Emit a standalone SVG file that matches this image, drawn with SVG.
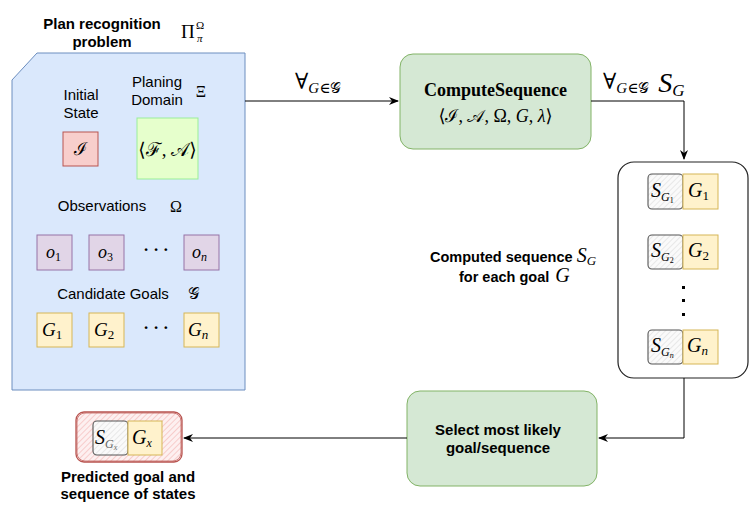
<svg xmlns="http://www.w3.org/2000/svg" width="753" height="512" viewBox="0 0 753 512">
<style>
.sans{font-family:"Liberation Sans",Arial,sans-serif;fill:#000}
.b{font-weight:bold}
.m{font-family:"Liberation Serif","DejaVu Serif",serif;fill:#000}
.i{font-style:italic}
.sc{font-family:"DejaVu Serif","Liberation Serif",serif;font-style:normal}
.conn{fill:none;stroke:#000;stroke-width:1}
.sk{fill:url(#hatchGray);stroke:#555;stroke-width:1.1}
.gy{fill:#fff2cc;stroke:#d6b656;stroke-width:1}
.obs{fill:#e1d5e7;stroke:#9673a6;stroke-width:1}
.grn{fill:#d5e8d4;stroke:#82b366;stroke-width:1}
</style>
<defs>
<marker id="arr" viewBox="0 0 10 8" refX="9" refY="4" markerWidth="10" markerHeight="8" markerUnits="userSpaceOnUse" orient="auto">
<path d="M0,0 L10,4 L0,8 L3,4 z" fill="#000"/>
</marker>
<pattern id="hatchGray" patternUnits="userSpaceOnUse" width="4" height="4" patternTransform="rotate(45)">
<rect width="4" height="4" fill="#fafafa"/>
<line x1="0" y1="0" x2="0" y2="4" stroke="#d6d6d6" stroke-width="1"/>
</pattern>
<pattern id="hatchRed" patternUnits="userSpaceOnUse" width="4" height="4" patternTransform="rotate(45)">
<rect width="4" height="4" fill="#fdf0f0"/>
<line x1="0" y1="0" x2="0" y2="4" stroke="#f2a8a6" stroke-width="1"/>
</pattern>
</defs>
<rect width="753" height="512" fill="#fff"/>

<g id="problem">
<polygon points="37,53 245,53 245,390 12,390 12,80" fill="#dae8fc" stroke="#6c8ebf" stroke-width="1"/>
<text class="sans b" font-size="15" text-anchor="middle"><tspan x="102" y="29">Plan recognition</tspan><tspan x="102" y="47">problem</tspan></text>
<text class="m" font-size="19" x="181" y="38">Π</text>
<text class="m" font-size="11" x="196" y="29">Ω</text>
<text class="m i" font-size="11" x="197" y="42">π</text>
</g>

<g id="initial-state">
<text class="sans" font-size="15" text-anchor="middle"><tspan x="81" y="100">Initial</tspan><tspan x="81" y="118">State</tspan></text>
<rect x="63" y="132" width="35" height="34" fill="#f8cecc" stroke="#b85450"/>
<text class="m sc" font-size="18" x="80.5" y="155" text-anchor="middle">ℐ</text>
</g>

<g id="planning-domain">
<text class="sans" font-size="15" text-anchor="middle"><tspan x="157" y="87">Planing</tspan><tspan x="157" y="105">Domain</tspan></text>
<text class="m" font-size="16" x="201" y="97" text-anchor="middle">Ξ</text>
<rect x="137" y="118" width="61" height="61" fill="#e6ffcc" stroke="#99ee99"/>
<text class="m" font-size="19" x="167.5" y="156" text-anchor="middle">⟨<tspan class="sc">ℱ</tspan>, <tspan class="sc">𝒜</tspan>⟩</text>
</g>

<g id="observations">
<text class="sans" font-size="15" x="102" y="211" text-anchor="middle">Observations</text>
<text class="m" font-size="16" x="176" y="212" text-anchor="middle">Ω</text>
<rect class="obs" x="37" y="235" width="35" height="35"/>
<rect class="obs" x="89" y="235" width="35" height="35"/>
<rect class="obs" x="184" y="235" width="35" height="35"/>
<text class="m" font-size="18" x="46" y="258"><tspan class="i">o</tspan><tspan font-size="12" dy="3">1</tspan></text>
<text class="m" font-size="18" x="98" y="258"><tspan class="i">o</tspan><tspan font-size="12" dy="3">3</tspan></text>
<text class="m" font-size="18" x="192" y="258"><tspan class="i">o</tspan><tspan class="i" font-size="12" dy="3">n</tspan></text>
<text class="m b" font-size="17" x="156" y="255" text-anchor="middle">· · ·</text>
</g>

<g id="candidate-goals">
<text class="sans" font-size="15" x="113" y="299" text-anchor="middle">Candidate Goals</text>
<text class="m sc" font-size="16" x="193" y="299" text-anchor="middle">𝒢</text>
<rect class="gy" x="37" y="313" width="35" height="34"/>
<rect class="gy" x="89" y="313" width="35" height="34"/>
<rect class="gy" x="184" y="313" width="35" height="34"/>
<text class="m" font-size="19" x="42" y="336"><tspan class="i">G</tspan><tspan font-size="13" dy="3">1</tspan></text>
<text class="m" font-size="19" x="94" y="336"><tspan class="i">G</tspan><tspan font-size="13" dy="3">2</tspan></text>
<text class="m" font-size="19" x="188" y="336"><tspan class="i">G</tspan><tspan class="i" font-size="13" dy="3">n</tspan></text>
<text class="m b" font-size="17" x="156" y="333" text-anchor="middle">· · ·</text>
</g>

<g id="compute-sequence">
<rect class="grn" x="400" y="54" width="191" height="95" rx="13"/>
<text class="m b" font-size="18" x="495.5" y="96" text-anchor="middle">ComputeSequence</text>
<text class="m" font-size="18" x="495.5" y="122" text-anchor="middle">⟨<tspan class="sc">ℐ</tspan>, <tspan class="sc">𝒜</tspan>, Ω, <tspan class="i">G</tspan>, <tspan class="i">λ</tspan>⟩</text>
</g>

<g id="computed-sequences">
<rect x="618" y="162" width="130" height="216" rx="16" fill="#fff" stroke="#222" stroke-width="1.2"/>
<rect class="sk" x="648" y="174" width="35" height="35" rx="4"/>
<rect class="gy" x="683" y="174" width="35" height="35"/>
<rect class="sk" x="648" y="235" width="35" height="34" rx="4"/>
<rect class="gy" x="683" y="235" width="35" height="34"/>
<rect class="sk" x="648" y="330" width="35" height="34" rx="4"/>
<rect class="gy" x="683" y="330" width="35" height="34"/>
<text class="m" font-size="20" x="651" y="197"><tspan class="i">S</tspan><tspan class="i" font-size="12" dy="4">G</tspan><tspan font-size="8" dy="2">1</tspan></text>
<text class="m" font-size="20" x="688" y="197"><tspan class="i">G</tspan><tspan font-size="13" dy="3">1</tspan></text>
<text class="m" font-size="20" x="651" y="257"><tspan class="i">S</tspan><tspan class="i" font-size="12" dy="4">G</tspan><tspan font-size="8" dy="2">2</tspan></text>
<text class="m" font-size="20" x="688" y="257"><tspan class="i">G</tspan><tspan font-size="13" dy="3">2</tspan></text>
<text class="m" font-size="20" x="651" y="352"><tspan class="i">S</tspan><tspan class="i" font-size="12" dy="4">G</tspan><tspan class="i" font-size="8" dy="2">n</tspan></text>
<text class="m" font-size="20" x="687" y="352"><tspan class="i">G</tspan><tspan class="i" font-size="13" dy="3">n</tspan></text>
<rect x="682" y="286" width="3" height="3" fill="#000"/>
<rect x="682" y="299" width="3" height="3" fill="#000"/>
<rect x="682" y="313" width="3" height="3" fill="#000"/>
</g>

<g id="computed-label">
<text class="sans b" font-size="14.5" x="430" y="262">Computed sequence <tspan class="m i" font-size="20" font-weight="normal">S</tspan><tspan class="m i" font-size="13" font-weight="normal" dy="3">G</tspan></text>
<text class="sans b" font-size="14.5" x="459" y="282">for each goal <tspan class="m i" font-size="20" font-weight="normal" dx="2">G</tspan></text>
</g>

<g id="select">
<rect class="grn" x="407" y="391" width="190" height="95" rx="13"/>
<text class="sans b" font-size="15" text-anchor="middle"><tspan x="498" y="435">Select most likely</tspan><tspan x="498" y="453">goal/sequence</tspan></text>
</g>

<g id="predicted">
<rect x="76" y="412" width="106" height="50" rx="8" fill="url(#hatchRed)" stroke="#b85450" stroke-width="1.3"/>
<rect x="77" y="413" width="104" height="48" rx="8" fill="none" stroke="#c0605c" stroke-width="0.8"/>
<rect class="sk" x="93" y="421" width="35" height="34" rx="4"/>
<rect class="gy" x="128" y="421" width="34" height="34"/>
<text class="m" font-size="20" x="95" y="444"><tspan class="i">S</tspan><tspan class="i" font-size="12" dy="4" fill="#666">G</tspan><tspan class="i" font-size="8" dy="2" fill="#666">x</tspan></text>
<text class="m" font-size="20" x="132" y="444"><tspan class="i">G</tspan><tspan class="i" font-size="12" dy="3">x</tspan></text>
<text class="sans b" font-size="15" text-anchor="middle"><tspan x="128" y="482">Predicted goal and</tspan><tspan x="128" y="499">sequence of states</tspan></text>
</g>

<g id="connectors">
<path class="conn" d="M245,101 H398" marker-end="url(#arr)"/>
<path class="conn" d="M591,101 H684 V159" marker-end="url(#arr)"/>
<path class="conn" d="M684,378 V438 H599" marker-end="url(#arr)"/>
<path class="conn" d="M407,438 H184" marker-end="url(#arr)"/>
<text class="m" font-size="22" x="295" y="89">∀<tspan class="i" font-size="15" dy="4">G</tspan><tspan font-size="15">∈</tspan><tspan class="sc" font-size="15">𝒢</tspan></text>
<text class="m" font-size="22" x="603" y="89">∀<tspan class="i" font-size="15" dy="4">G</tspan><tspan font-size="15">∈</tspan><tspan class="sc" font-size="15">𝒢</tspan><tspan class="i" font-size="28" dy="-1" dx="9">S</tspan><tspan class="i" font-size="17" dy="4">G</tspan></text>
</g>
</svg>
